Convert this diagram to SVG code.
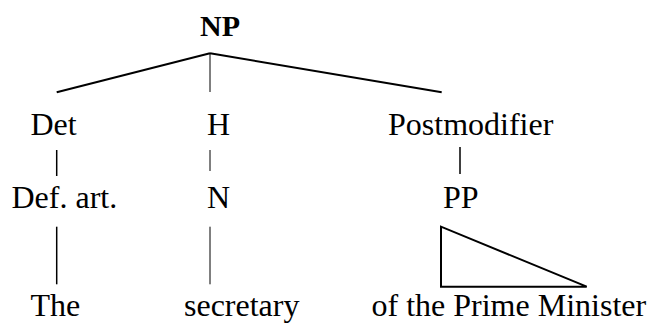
<svg xmlns="http://www.w3.org/2000/svg" width="650" height="323" viewBox="0 0 650 323">
<style>
text{font-family:"Liberation Serif","Times New Roman",serif;font-size:32px;fill:#000}
.b{font-weight:bold;font-size:30px}
.l{stroke:#000;fill:none;stroke-linecap:butt}
.t{stroke-width:2}
.v{stroke-width:1.5}
.h{stroke-width:1}
</style>
<rect width="650" height="323" fill="#fff"/>
<g id="connectors">
<line class="l t" x1="210" y1="53.3" x2="56.7" y2="92.3"/>
<line class="l h" x1="210" y1="53.3" x2="210" y2="92"/>
<line class="l t" x1="210" y1="53.3" x2="441.7" y2="92.3"/>
<line class="l v" x1="56.7" y1="150" x2="56.7" y2="176"/>
<line class="l h" x1="210" y1="150" x2="210" y2="171"/>
<line class="l v" x1="460" y1="147" x2="460" y2="174"/>
<line class="l v" x1="56.7" y1="226.7" x2="56.7" y2="284.3"/>
<line class="l h" x1="210" y1="226.7" x2="210" y2="284.3"/>
<polygon class="l t" points="441,226.7 441,286.7 586.7,286.7"/>
</g>
<g id="np"><text class="b" x="200" y="36">NP</text></g>
<g id="det"><text x="30.5" y="135">Det</text></g>
<g id="h"><text x="207" y="135">H</text></g>
<g id="postmodifier"><text x="388" y="135">Postmodifier</text></g>
<g id="defart"><text x="11.5" y="207.7">Def. art.</text></g>
<g id="n"><text x="207" y="207.7">N</text></g>
<g id="pp"><text x="443" y="207.7">PP</text></g>
<g id="the"><text x="30.5" y="315.5">The</text></g>
<g id="secretary"><text x="184" y="315.5">secretary</text></g>
<g id="ofpm"><text x="371.5" y="315.5">of the Prime Minister</text></g>
</svg>
